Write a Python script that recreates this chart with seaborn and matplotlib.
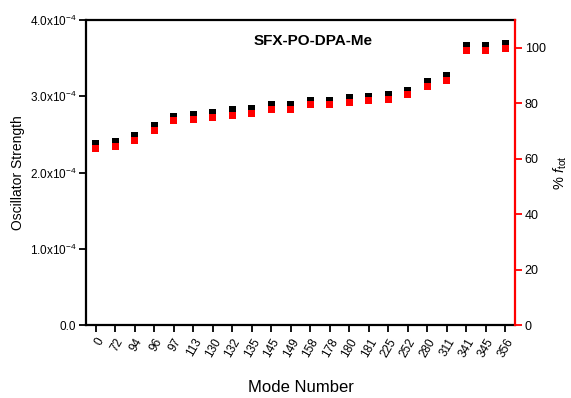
import matplotlib
matplotlib.use("Agg")
import matplotlib.pyplot as plt
import seaborn as sns
import pandas as pd

# Vibrational modes and their oscillator strengths
modes = ["0", "72", "94", "96", "97", "113", "130", "132", "135", "145", "149",
         "158", "178", "180", "181", "225", "252", "280", "311", "341", "345", "356"]
osc_strength = [2.38e-4, 2.41e-4, 2.485e-4, 2.61e-4, 2.74e-4, 2.76e-4, 2.78e-4,
                2.82e-4, 2.84e-4, 2.885e-4, 2.89e-4, 2.95e-4, 2.95e-4, 2.98e-4,
                3.00e-4, 3.02e-4, 3.08e-4, 3.19e-4, 3.27e-4, 3.66e-4, 3.67e-4, 3.69e-4]
pct_ftot = [63.7, 64.4, 66.6, 70.0, 73.6, 74.2, 74.8, 75.6, 76.3, 77.6, 77.8,
            79.4, 79.4, 80.3, 80.9, 81.2, 83.0, 85.9, 88.1, 98.9, 99.1, 99.8]

left_ticks = [0.0, 1.0e-4, 2.0e-4, 3.0e-4, 4.0e-4]
left_ticklabels = ["0.0", r"1.0x10$^{-4}$", r"2.0x10$^{-4}$", r"3.0x10$^{-4}$", r"4.0x10$^{-4}$"]
right_ticks = [0, 20, 40, 60, 80, 100]

df = pd.DataFrame({"mode": modes, "f": osc_strength, "pct": pct_ftot})
df["pos"] = range(len(df))

sns.set_theme(style="white")
plt.rcParams["font.family"] = ["Liberation Sans", "DejaVu Sans"]
plt.rcParams["mathtext.fontset"] = "custom"
plt.rcParams["mathtext.rm"] = "Liberation Sans"
plt.rcParams["mathtext.it"] = "Liberation Sans:italic"
plt.rcParams["text.color"] = "black"
plt.rcParams["axes.labelcolor"] = "black"
plt.rcParams["xtick.color"] = "black"
plt.rcParams["ytick.color"] = "black"

fig = plt.figure(figsize=(5.71, 3.98), dpi=100)
ax = fig.add_axes([0.1506, 0.1834, 0.7514, 0.7663])
ax2 = ax.twinx()

sns.scatterplot(data=df, x="pos", y="f", ax=ax, marker="s", s=26,
                color="black", edgecolor="none", legend=False)
sns.scatterplot(data=df, x="pos", y="pct", ax=ax2, marker="s", s=26,
                color="#ff0000", edgecolor="none", legend=False)

ax.set_xlim(-0.5, len(modes) - 0.5)
ax.set_ylim(0, 4.0e-4)
ax2.set_ylim(0, 110)

ax.set_xticks(df["pos"])
ax.set_xticklabels(modes, rotation=60, ha="right", rotation_mode="anchor", fontsize=8.5)
ax.set_yticks(left_ticks)
ax.set_yticklabels(left_ticklabels, fontsize=8.5)
ax2.set_yticks(right_ticks)
ax2.set_yticklabels([str(t) for t in right_ticks], fontsize=9)

ax.tick_params(axis="both", direction="out", length=5, width=1.3, color="black",
               labelcolor="black", bottom=True, left=True, pad=2)
ax.tick_params(axis="x", pad=3)
ax2.tick_params(axis="y", direction="out", length=5, width=1.3, colors="#ff0000",
                labelcolor="black", right=True, pad=2)

for side in ["left", "bottom", "top"]:
    ax.spines[side].set_color("black")
    ax.spines[side].set_linewidth(1.6)
ax.spines["right"].set_visible(False)
for side in ["left", "bottom", "top"]:
    ax2.spines[side].set_visible(False)
ax2.spines["right"].set_color("#ff0000")
ax2.spines["right"].set_linewidth(1.6)

ax.set_xlabel("Mode Number", fontsize=12, labelpad=15, color="black")
ax.set_ylabel("Oscillator Strength", fontsize=10, labelpad=3, color="black")
ax2.set_ylabel(r"% $f$$_{\mathrm{tot}}$", fontsize=10.5, labelpad=4, color="black")

ax.text(0.53, 0.93, "SFX-PO-DPA-Me", transform=ax.transAxes, ha="center",
        va="center", fontsize=11, fontweight="bold", color="black")

fig.savefig("out.png", dpi=100)
